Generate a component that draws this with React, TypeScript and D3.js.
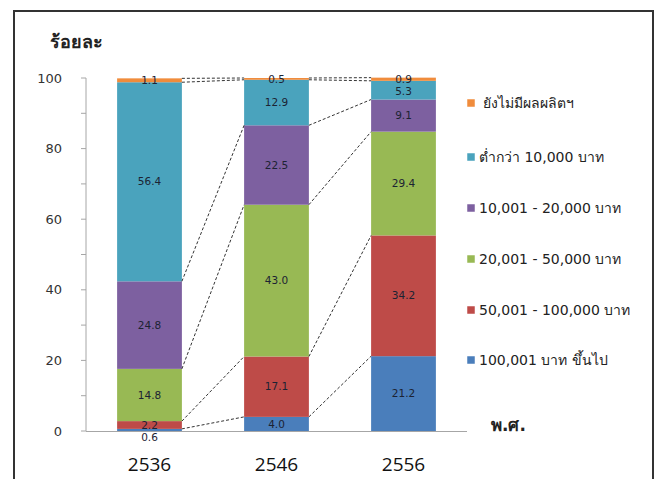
import React from "react";
import * as d3 from "d3";

const years = ["2536", "2546", "2556"];
const seriesNames = [
  "100,001 บาท ขึ้นไป",
  "50,001 - 100,000 บาท",
  "20,001 - 50,000 บาท",
  "10,001 - 20,000 บาท",
  "ต่ำกว่า 10,000 บาท",
  " ยังไม่มีผลผลิตฯ",
];
const seriesColors = ["#4A7EBB", "#BE4B48", "#98B954", "#7D60A0", "#4AA3BD", "#F08C3C"];
// values per series, one per year
const s100k = [0.6, 4.0, 21.2];
const s50k = [2.2, 17.1, 34.2];
const s20k = [14.8, 43.0, 29.4];
const s10k = [24.8, 22.5, 9.1];
const sLow = [56.4, 12.9, 5.3];
const sNone = [1.1, 0.5, 0.9];
const seriesValues = [s100k, s50k, s20k, s10k, sLow, sNone];
const yTicks = [0, 20, 40, 60, 80, 100];
const yMinor = [10, 30, 50, 70, 90];

const FONT = "Tahoma, 'DejaVu Sans', 'Noto Sans', sans-serif";

export default function App() {
  const W = 660, H = 479;
  const x = d3.scaleBand<string>().domain(years).range([86, 467]).paddingInner(0.49).paddingOuter(0.245);
  const y = d3.scaleLinear().domain([0, 100]).range([431, 78]);

  const table = years.map((yr, i) => {
    const row: any = { year: yr };
    seriesNames.forEach((n, k) => (row[k] = seriesValues[k][i]));
    return row;
  });
  const stack = d3.stack<any>().keys(seriesNames.map((_, k) => String(k)))(table);

  // label positions with simple collision avoidance
  const labels: { x: number; y: number; t: string; key: string }[] = [];
  years.forEach((yr, i) => {
    const items = stack.map((s, k) => ({
      k,
      y: y((s[i][0] + s[i][1]) / 2),
      t: seriesValues[k][i].toFixed(1),
    }));
    const sorted = [...items].sort((a, b) => a.y - b.y);
    for (let j = 1; j < sorted.length; j++) {
      if (sorted[j].y - sorted[j - 1].y < 12) sorted[j].y = sorted[j - 1].y + 12;
    }
    sorted.forEach((it) =>
      labels.push({ x: x(yr)! + x.bandwidth() / 2, y: it.y, t: it.t, key: yr + "-" + it.k })
    );
  });

  const legendOrder = [5, 4, 3, 2, 1, 0];
  const legendY = [103, 157, 208, 259, 310, 360];

  return (
    <svg width={W} height={H} style={{ position: "absolute", left: 0, top: 0, background: "#fff" }}>
      <rect x={0} y={0} width={W} height={H} fill="#fff" />
      <path d={`M14,${H + 2}V11H653V${H + 2}`} fill="none" stroke="#333" strokeWidth={2} />

      <text x={50} y={48} fontFamily={FONT} fontSize={18} fontWeight="bold" fill="#222">ร้อยละ</text>

      {/* y axis */}
      <line x1={86} x2={86} y1={y(100)} y2={y(0)} stroke="#A6A6A6" />
      {[...yTicks, ...yMinor].map((t) => (
        <line key={"t" + t} x1={81} x2={86} y1={y(t)} y2={y(t)} stroke="#A6A6A6" />
      ))}
      {yTicks.map((t) => (
        <text key={"l" + t} x={62} y={y(t)} dy="0.35em" textAnchor="end" fontFamily={FONT} fontSize={13} fill="#333">
          {t}
        </text>
      ))}

      {/* bars */}
      {stack.map((s, k) =>
        s.map((d, i) => (
          <rect
            key={k + "-" + i}
            x={x(years[i])}
            width={x.bandwidth()}
            y={y(d[1])}
            height={y(d[0]) - y(d[1])}
            fill={seriesColors[k]}
          />
        ))
      )}

      {/* series lines */}
      {stack.map((s, k) =>
        years.slice(0, -1).map((yr, i) => (
          <line
            key={"sl" + k + "-" + i}
            x1={x(yr)! + x.bandwidth()}
            x2={x(years[i + 1])}
            y1={y(s[i][1])}
            y2={y(s[i + 1][1])}
            stroke="#333"
            strokeWidth={1}
            strokeDasharray="3,2"
          />
        ))
      )}

      {/* x axis */}
      <line x1={86} x2={467} y1={y(0) + 0.5} y2={y(0) + 0.5} stroke="#A6A6A6" />

      {labels.map((l) => (
        <text key={l.key} x={l.x} y={l.y} dy="0.35em" textAnchor="middle" fontFamily={FONT} fontSize={10.5} fill="#1c2333">
          {l.t}
        </text>
      ))}

      {years.map((yr) => (
        <text key={yr} x={x(yr)! + x.bandwidth() / 2} y={464} dy="0.35em" textAnchor="middle" fontFamily="'Open Sans', 'DejaVu Sans', sans-serif" fontSize={19} fontWeight={500} fill="#111">
          {yr}
        </text>
      ))}

      <text x={491} y={425} dy="0.35em" fontFamily={FONT} fontSize={17} fontWeight="bold" fill="#222">พ.ศ.</text>

      {/* legend */}
      {legendOrder.map((k, j) => (
        <g key={"lg" + k}>
          <rect x={467} y={legendY[j] - 4} width={8} height={8} fill={seriesColors[k]} stroke="#fff" strokeWidth={0.5} />
          <text x={479} y={legendY[j]} dy="0.35em" fontFamily={FONT} fontSize={14} fill="#222" style={{ whiteSpace: "pre" }}>
            {seriesNames[k]}
          </text>
        </g>
      ))}
    </svg>
  );
}
